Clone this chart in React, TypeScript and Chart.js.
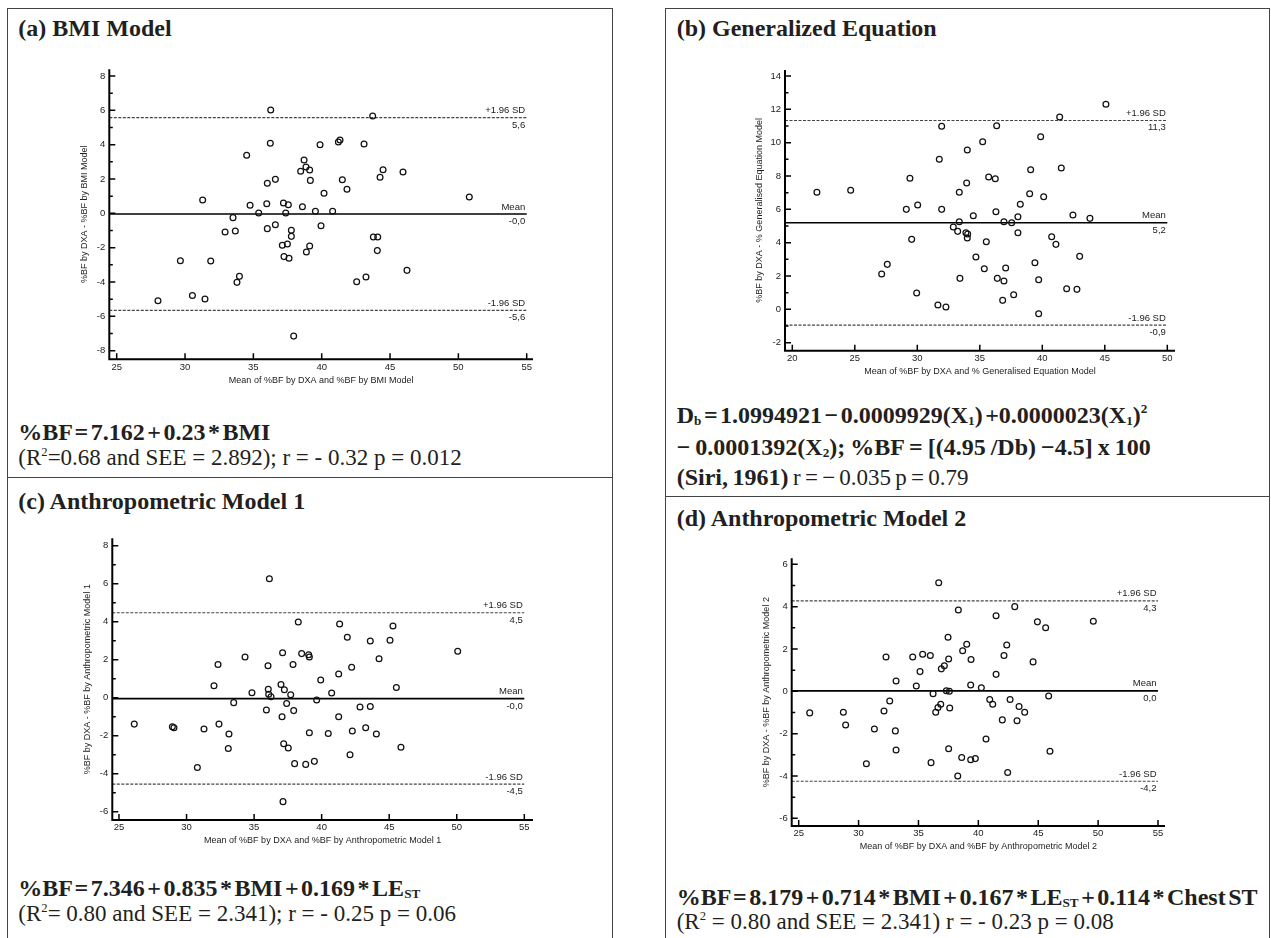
import React, { useEffect, useRef } from "react";
import { Chart, registerables } from "chart.js";

Chart.register(...registerables);

// ---------------- DATA ----------------
// (a) BMI Model
const bmiMeanX = [36.27, 43.73, 36.24, 34.51, 39.88, 41.22, 41.34, 43.1, 38.71, 38.85, 38.46, 39.12, 39.17, 36.61, 36.02, 41.51, 41.85, 40.17, 44.49, 44.27, 45.95, 50.8, 31.29, 34.76, 35.98, 35.39, 37.2, 37.56, 37.37, 38.59, 39.54, 40.8, 33.51, 32.93, 33.68, 36.02, 36.61, 37.78, 37.78, 39.95, 37.12, 37.49, 39.12, 38.88, 37.24, 37.61, 43.78, 44.1, 44.07, 29.66, 31.88, 33.98, 33.8, 42.56, 43.24, 46.24, 28.02, 30.54, 31.46, 37.95];
const bmiDiffY = [6.02, 5.67, 4.08, 3.38, 4.0, 4.16, 4.27, 4.04, 3.11, 2.7, 2.45, 2.52, 1.92, 1.98, 1.75, 1.96, 1.4, 1.17, 2.54, 2.1, 2.41, 0.95, 0.78, 0.47, 0.56, 0.02, 0.6, 0.5, 0.02, 0.39, 0.12, 0.12, -0.25, -1.09, -1.03, -0.89, -0.66, -0.99, -1.34, -0.72, -1.86, -1.79, -1.9, -2.25, -2.52, -2.62, -1.38, -1.38, -2.17, -2.76, -2.78, -3.67, -4.02, -3.98, -3.71, -3.32, -5.09, -4.78, -4.99, -7.15];
const bmiLimits = [5.57, -0.04, -5.65];
const bmiLimitLabels = ["5,6", "-0,0", "-5,6"];

// (b) Generalized Equation
const genMeanX = [45.09, 41.39, 31.95, 36.35, 39.87, 35.23, 34.0, 31.76, 29.41, 35.71, 36.24, 33.95, 39.07, 41.52, 21.97, 24.67, 33.36, 38.99, 40.11, 38.24, 30.03, 29.12, 31.95, 36.29, 34.48, 38.05, 42.45, 43.81, 33.36, 36.93, 37.55, 32.88, 33.23, 33.89, 34.03, 34.0, 38.05, 29.55, 35.52, 40.75, 41.09, 42.99, 34.69, 39.41, 27.6, 27.15, 35.36, 37.07, 33.41, 36.4, 36.93, 39.71, 29.95, 37.71, 41.95, 42.77, 36.83, 31.65, 32.29, 39.71];
const genDiffY = [12.3, 11.54, 10.98, 11.02, 10.36, 10.06, 9.56, 9.0, 7.86, 7.94, 7.84, 7.58, 8.38, 8.48, 7.02, 7.14, 7.02, 6.94, 6.76, 6.3, 6.26, 6.0, 6.0, 5.86, 5.62, 5.56, 5.66, 5.46, 5.26, 5.26, 5.2, 4.94, 4.68, 4.6, 4.52, 4.28, 4.6, 4.2, 4.06, 4.36, 3.9, 3.18, 3.14, 2.8, 2.7, 2.12, 2.44, 2.48, 1.86, 1.86, 1.7, 1.78, 0.98, 0.88, 1.24, 1.2, 0.54, 0.26, 0.14, -0.26];
const genLimits = [11.33, 5.2, -0.95];
const genLimitLabels = ["11,3", "5,2", "-0,9"];

// (c) Anthropometric Model 1
const am1MeanX = [36.13, 38.27, 41.33, 45.28, 41.9, 43.6, 45.06, 50.07, 37.11, 38.52, 39.04, 39.09, 34.33, 44.25, 32.33, 36.03, 37.88, 42.22, 41.26, 39.93, 32.03, 36.99, 36.05, 37.24, 34.84, 36.08, 36.25, 37.71, 40.74, 45.53, 39.63, 33.49, 37.41, 35.91, 37.93, 42.84, 43.6, 37.07, 41.26, 26.13, 28.95, 29.07, 31.29, 32.4, 33.14, 33.09, 39.09, 40.49, 42.27, 43.26, 44.05, 37.19, 37.53, 45.87, 42.1, 30.8, 38.0, 38.82, 39.46, 37.14];
const am1DiffY = [6.26, 3.98, 3.88, 3.77, 3.18, 2.98, 3.02, 2.44, 2.37, 2.32, 2.26, 2.14, 2.14, 2.05, 1.75, 1.68, 1.75, 1.6, 1.25, 0.93, 0.63, 0.7, 0.44, 0.42, 0.26, 0.18, 0.05, 0.16, 0.25, 0.54, -0.12, -0.26, -0.3, -0.65, -0.68, -0.49, -0.46, -1.0, -1.0, -1.39, -1.53, -1.58, -1.65, -1.39, -1.91, -2.67, -1.84, -1.88, -1.75, -1.58, -1.91, -2.42, -2.65, -2.61, -3.0, -3.67, -3.47, -3.51, -3.35, -5.47];
const am1Limits = [4.47, -0.05, -4.55];
const am1LimitLabels = ["4,5", "-0,0", "-4,5"];

// (d) Anthropometric Model 2
const am2MeanX = [36.69, 38.33, 43.04, 41.48, 44.93, 45.62, 49.6, 37.47, 39.03, 38.69, 42.37, 42.14, 32.29, 34.52, 35.35, 35.99, 37.52, 39.39, 44.57, 37.16, 36.91, 35.13, 41.48, 33.13, 34.82, 39.36, 40.25, 37.33, 37.58, 36.22, 45.87, 32.6, 32.12, 25.92, 28.73, 28.92, 36.86, 36.63, 36.44, 37.61, 40.95, 41.2, 42.65, 43.4, 43.87, 42.0, 43.23, 31.32, 33.07, 40.64, 33.13, 37.52, 45.98, 38.61, 39.36, 39.75, 30.65, 36.05, 38.28, 42.45];
const am2DiffY = [5.13, 3.84, 4.0, 3.57, 3.28, 3.0, 3.31, 2.55, 2.22, 1.92, 2.19, 1.69, 1.62, 1.62, 1.75, 1.69, 1.53, 1.5, 1.39, 1.21, 1.06, 0.93, 0.8, 0.49, 0.25, 0.3, 0.17, 0.03, 0.0, -0.11, -0.22, -0.46, -0.93, -1.02, -0.99, -1.59, -0.61, -0.77, -0.99, -0.79, -0.39, -0.61, -0.39, -0.72, -0.99, -1.35, -1.39, -1.78, -1.87, -2.25, -2.77, -2.71, -2.83, -3.13, -3.23, -3.18, -3.42, -3.37, -4.0, -3.84];
const am2Limits = [4.27, 0.02, -4.25];
const am2LimitLabels = ["4,3", "0,0", "-4,2"];

// shared labels / ticks
const limitNames = ["+1.96 SD", "Mean", "-1.96 SD"];
const xTicks25to55 = [25, 30, 35, 40, 45, 50, 55];
const xTicks20to50 = [20, 25, 30, 35, 40, 45, 50];
const yMajorA = [-8, -6, -4, -2, 0, 2, 4, 6, 8];
const yMinorA = [-7, -5, -3, -1, 1, 3, 5, 7];
const yMajorB = [-2, 0, 2, 4, 6, 8, 10, 12, 14];
const yMinorB = [-1, 1, 3, 5, 7, 9, 11, 13];
const yMajorC = [-6, -4, -2, 0, 2, 4, 6, 8];
const yMinorC = [-5, -3, -1, 1, 3, 5, 7];
const yMajorD = [-6, -4, -2, 0, 2, 4, 6];
const yMinorD = [-5, -3, -1, 1, 3, 5];

// ---------------- LAYOUT ----------------
type Geom = { L: number; R: number; T: number; B: number; xA: number[]; xB: number[]; yA: number[]; yB: number[] };
type PanelCfg = {
  xs: number[]; ys: number[]; limits: number[]; limitLabels: string[];
  xMajor: number[]; yMajor: number[]; yMinor: number[]; xEnd: number;
  xTitle: string; yTitle: string; geom: Geom;
};

const SANS = '"Liberation Sans", Arial, Helvetica, sans-serif';
const SERIF = '"Liberation Serif", "Times New Roman", Times, serif';
const INK = "#231f20";

const panels: PanelCfg[] = [
  {
    xs: bmiMeanX, ys: bmiDiffY, limits: bmiLimits, limitLabels: bmiLimitLabels,
    xMajor: xTicks25to55, yMajor: yMajorA, yMinor: yMinorA, xEnd: 55,
    xTitle: "Mean of %BF by DXA and %BF by BMI Model",
    yTitle: "%BF by DXA - %BF by BMI Model",
    geom: { L: 109.3, R: 533, T: 69.3, B: 359.3, xA: [25, 116.7], xB: [55, 526.7], yA: [8, 76], yB: [-8, 350.7] },
  },
  {
    xs: genMeanX, ys: genDiffY, limits: genLimits, limitLabels: genLimitLabels,
    xMajor: xTicks20to50, yMajor: yMajorB, yMinor: yMinorB, xEnd: 50,
    xTitle: "Mean of %BF by DXA and % Generalised Equation Model",
    yTitle: "%BF by DXA - % Generalised Equation Model",
    geom: { L: 785, R: 1175, T: 70, B: 350.7, xA: [20, 792.3], xB: [50, 1167.3], yA: [14, 76], yB: [-2, 342.7] },
  },
  {
    xs: am1MeanX, ys: am1DiffY, limits: am1Limits, limitLabels: am1LimitLabels,
    xMajor: xTicks25to55, yMajor: yMajorC, yMinor: yMinorC, xEnd: 55,
    xTitle: "Mean of %BF by DXA and %BF by Anthropometric Model 1",
    yTitle: "%BF by DXA - %BF by Anthropometric Model 1",
    geom: { L: 112.3, R: 533, T: 538.3, B: 820, xA: [25, 119], xB: [55, 524.3], yA: [8, 545.7], yB: [-6, 811.7] },
  },
  {
    xs: am2MeanX, ys: am2DiffY, limits: am2Limits, limitLabels: am2LimitLabels,
    xMajor: xTicks25to55, yMajor: yMajorD, yMinor: yMinorD, xEnd: 55,
    xTitle: "Mean of %BF by DXA and %BF by Anthropometric Model 2",
    yTitle: "%BF by DXA - %BF by Anthropometric Model 2",
    geom: { L: 791.7, R: 1165, T: 558.3, B: 826, xA: [25, 798.7], xB: [55, 1158], yA: [6, 564.3], yB: [-6, 818.3] },
  },
];

function canvasLayout(g: Geom) {
  const cx = Math.floor(g.L - 62);
  const cy = Math.floor(g.T - 14);
  const cw = Math.ceil(g.R + 18 - cx);
  const ch = Math.ceil(g.B + 34 - cy);
  const ppuX = (g.xB[1] - g.xA[1]) / (g.xB[0] - g.xA[0]);
  const ppuY = (g.yB[1] - g.yA[1]) / (g.yA[0] - g.yB[0]);
  return {
    cx, cy, cw, ch,
    padL: 2, yW: g.L - cx - 2,
    padT: g.T - cy, padR: cx + cw - g.R,
    padB: 2, xH: cy + ch - 2 - g.B,
    xMin: g.xA[0] - (g.xA[1] - g.L) / ppuX,
    xMax: g.xB[0] + (g.R - g.xB[1]) / ppuX,
    yMax: g.yA[0] + (g.yA[1] - g.T) / ppuY,
    yMin: g.yB[0] - (g.B - g.yB[1]) / ppuY,
  };
}

function makeDecorPlugin(cfg: PanelCfg) {
  return {
    id: "baDecor",
    afterDraw(chart: any) {
      const { ctx, chartArea: ca, scales } = chart;
      const xs = scales.x, ys = scales.y;
      ctx.save();
      // axis lines
      ctx.strokeStyle = "#000";
      ctx.lineWidth = 2;
      ctx.beginPath();
      ctx.moveTo(ca.left, ca.top);
      ctx.lineTo(ca.left, ca.bottom);
      ctx.lineTo(ca.right, ca.bottom);
      ctx.stroke();
      // inward tick marks
      ctx.lineWidth = 1.5;
      ctx.beginPath();
      cfg.yMajor.forEach((v) => { const p = ys.getPixelForValue(v); ctx.moveTo(ca.left, p); ctx.lineTo(ca.left + 6, p); });
      cfg.yMinor.forEach((v) => { const p = ys.getPixelForValue(v); ctx.moveTo(ca.left, p); ctx.lineTo(ca.left + 3.5, p); });
      cfg.xMajor.forEach((v) => { const p = xs.getPixelForValue(v); ctx.moveTo(p, ca.bottom); ctx.lineTo(p, ca.bottom - 6); });
      ctx.stroke();
      // limit labels
      ctx.fillStyle = "#222";
      ctx.font = `9.5px ${SANS}`;
      ctx.textAlign = "right";
      const xr = xs.getPixelForValue(cfg.xEnd) - 1.5;
      cfg.limits.forEach((v, i) => {
        const p = ys.getPixelForValue(v);
        ctx.textBaseline = "alphabetic";
        ctx.fillText(limitNames[i], xr, p - 4.5);
        ctx.textBaseline = "top";
        ctx.fillText(cfg.limitLabels[i], xr, p + 2.5);
      });
      // axis titles
      ctx.font = `9px ${SANS}`;
      ctx.textAlign = "center";
      ctx.textBaseline = "middle";
      ctx.fillText(cfg.xTitle, (ca.left + ca.right) / 2, ca.bottom + 21);
      ctx.translate(ca.left - 25, (ca.top + ca.bottom) / 2);
      ctx.rotate(-Math.PI / 2);
      ctx.fillText(cfg.yTitle, 0, 0);
      ctx.restore();
    },
  };
}

function BAChart({ cfg }: { cfg: PanelCfg }) {
  const ref = useRef<HTMLCanvasElement | null>(null);
  const lay = canvasLayout(cfg.geom);
  useEffect(() => {
    if (!ref.current) return;
    const points = cfg.xs.map((x, i) => ({ x, y: cfg.ys[i] }));
    const limitDs = cfg.limits.map((v, i) => ({
      data: [{ x: lay.xMin, y: v }, { x: cfg.xEnd, y: v }],
      showLine: true,
      pointRadius: 0,
      borderColor: i === 1 ? "#000" : "#444",
      borderWidth: i === 1 ? 1.6 : 1.2,
      borderDash: i === 1 ? [] : [3, 1.5],
      fill: false,
    }));
    const tickFont = { family: SANS, size: 9.5 };
    const chart = new Chart(ref.current, {
      type: "scatter",
      data: {
        datasets: [
          {
            data: points,
            pointStyle: "circle",
            pointRadius: 2.9,
            borderColor: "#111",
            borderWidth: 1.25,
            backgroundColor: "rgba(255,255,255,0)",
          } as any,
          ...(limitDs as any[]),
        ],
      },
      options: {
        animation: false,
        responsive: false,
        maintainAspectRatio: false,
        events: [],
        layout: { padding: { left: lay.padL, top: lay.padT, right: lay.padR, bottom: lay.padB } },
        plugins: { legend: { display: false }, tooltip: { enabled: false } },
        scales: {
          x: {
            type: "linear",
            min: lay.xMin,
            max: lay.xMax,
            afterBuildTicks: (s: any) => { s.ticks = cfg.xMajor.map((v) => ({ value: v })); },
            afterFit: (s: any) => { s.height = lay.xH; },
            ticks: { color: "#222", font: tickFont, padding: 2, maxRotation: 0, autoSkip: false, callback: (v: any) => String(v) },
            grid: { display: false, drawTicks: false, tickLength: 0 },
            border: { display: false },
          },
          y: {
            type: "linear",
            min: lay.yMin,
            max: lay.yMax,
            afterBuildTicks: (s: any) => { s.ticks = cfg.yMajor.map((v) => ({ value: v })); },
            afterFit: (s: any) => { s.width = lay.yW; },
            ticks: { color: "#222", font: tickFont, padding: 4, autoSkip: false, callback: (v: any) => String(v) },
            grid: { display: false, drawTicks: false, tickLength: 0 },
            border: { display: false },
          },
        },
      } as any,
      plugins: [makeDecorPlugin(cfg)],
    });
    return () => chart.destroy();
  }, []);
  return (
    <canvas
      ref={ref}
      width={lay.cw}
      height={lay.ch}
      style={{ position: "absolute", left: lay.cx, top: lay.cy, width: lay.cw, height: lay.ch }}
    />
  );
}

// ---------------- TEXT HELPERS ----------------
function TextLine({ left, baseline, size, bold, ws, children }: any) {
  return (
    <div
      style={{
        position: "absolute",
        left,
        top: baseline - 0.9375 * size,
        fontFamily: SERIF,
        fontSize: size,
        lineHeight: `${1.2 * size}px`,
        fontWeight: bold ? 700 : 400,
        color: INK,
        whiteSpace: "nowrap",
        wordSpacing: ws !== undefined ? `${ws}px` : "normal",
      }}
    >
      {children}
    </div>
  );
}
const Sub = ({ children }: any) => (
  <span style={{ fontSize: "0.55em", position: "relative", top: "0.2em" }}>{children}</span>
);
const Sup = ({ children }: any) => (
  <span style={{ fontSize: "0.55em", position: "relative", top: "-0.75em" }}>{children}</span>
);

const LX = 18.3;
const RX = 676.7;

export default function App() {
  const border = "1.5px solid #444";
  return (
    <div
      style={{
        position: "absolute", left: 0, top: 0, width: 1271, height: 938,
        overflow: "hidden", background: "#fff",
      }}
    >
      {/* panel frames */}
      <div style={{ position: "absolute", left: 7.25, top: 7.5, width: 605.5, height: 960, borderLeft: border, borderRight: border, borderTop: border, boxSizing: "border-box" }} />
      <div style={{ position: "absolute", left: 7.25, top: 476.5, width: 605.5, height: 1.5, background: "#444" }} />
      <div style={{ position: "absolute", left: 665.25, top: 7.5, width: 605, height: 960, borderLeft: border, borderRight: border, borderTop: border, boxSizing: "border-box" }} />
      <div style={{ position: "absolute", left: 665.25, top: 495.75, width: 605, height: 1.5, background: "#444" }} />

      {/* (a) */}
      <TextLine left={LX} baseline={36.7} size={24} bold>(a) BMI Model</TextLine>
      <TextLine left={LX} baseline={440} size={24} bold ws={-3.5}>%BF = 7.162 + 0.23 * BMI</TextLine>
      <TextLine left={LX} baseline={466} size={23}>(R<Sup>2</Sup>=0.68 and SEE = 2.892); r = - 0.32 p = 0.012</TextLine>

      {/* (b) */}
      <TextLine left={RX} baseline={36.5} size={24} bold>(b) Generalized Equation</TextLine>
      <TextLine left={RX} baseline={423} size={24} bold ws={-3.5}>
        D<Sub>b</Sub> = 1.0994921 − 0.0009929(X<Sub>1</Sub>) +0.0000023(X<Sub>1</Sub>)<Sup>2</Sup>
      </TextLine>
      <TextLine left={RX} baseline={455} size={24} bold ws={-1}>
        − 0.0001392(X<Sub>2</Sub>); %BF = [(4.95 /Db) −4.5] x 100
      </TextLine>
      <TextLine left={RX} baseline={485} size={24} ws={-1.5}>
        <b>(Siri, 1961)</b> <span style={{ fontSize: 23 }}>r = − 0.035 p = 0.79</span>
      </TextLine>

      {/* (c) */}
      <TextLine left={LX} baseline={509} size={24} bold>(c) Anthropometric Model 1</TextLine>
      <TextLine left={LX} baseline={896} size={24} bold ws={-3.5}>
        %BF = 7.346 + 0.835 * BMI + 0.169 * LE<Sub>ST</Sub>
      </TextLine>
      <TextLine left={LX} baseline={922} size={23}>(R<Sup>2</Sup>= 0.80 and SEE = 2.341); r = - 0.25 p = 0.06</TextLine>

      {/* (d) */}
      <TextLine left={RX} baseline={905} size={24} bold ws={-3.5}>
        %BF = 8.179 + 0.714 * BMI + 0.167 * LE<Sub>ST</Sub> + 0.114 * Chest ST
      </TextLine>
      <TextLine left={RX} baseline={526} size={24} bold>(d) Anthropometric Model 2</TextLine>
      <TextLine left={RX} baseline={930} size={23}>(R<Sup>2</Sup> = 0.80 and SEE = 2.341) r = - 0.23 p = 0.08</TextLine>

      {panels.map((p, i) => (
        <BAChart key={i} cfg={p} />
      ))}
    </div>
  );
}
